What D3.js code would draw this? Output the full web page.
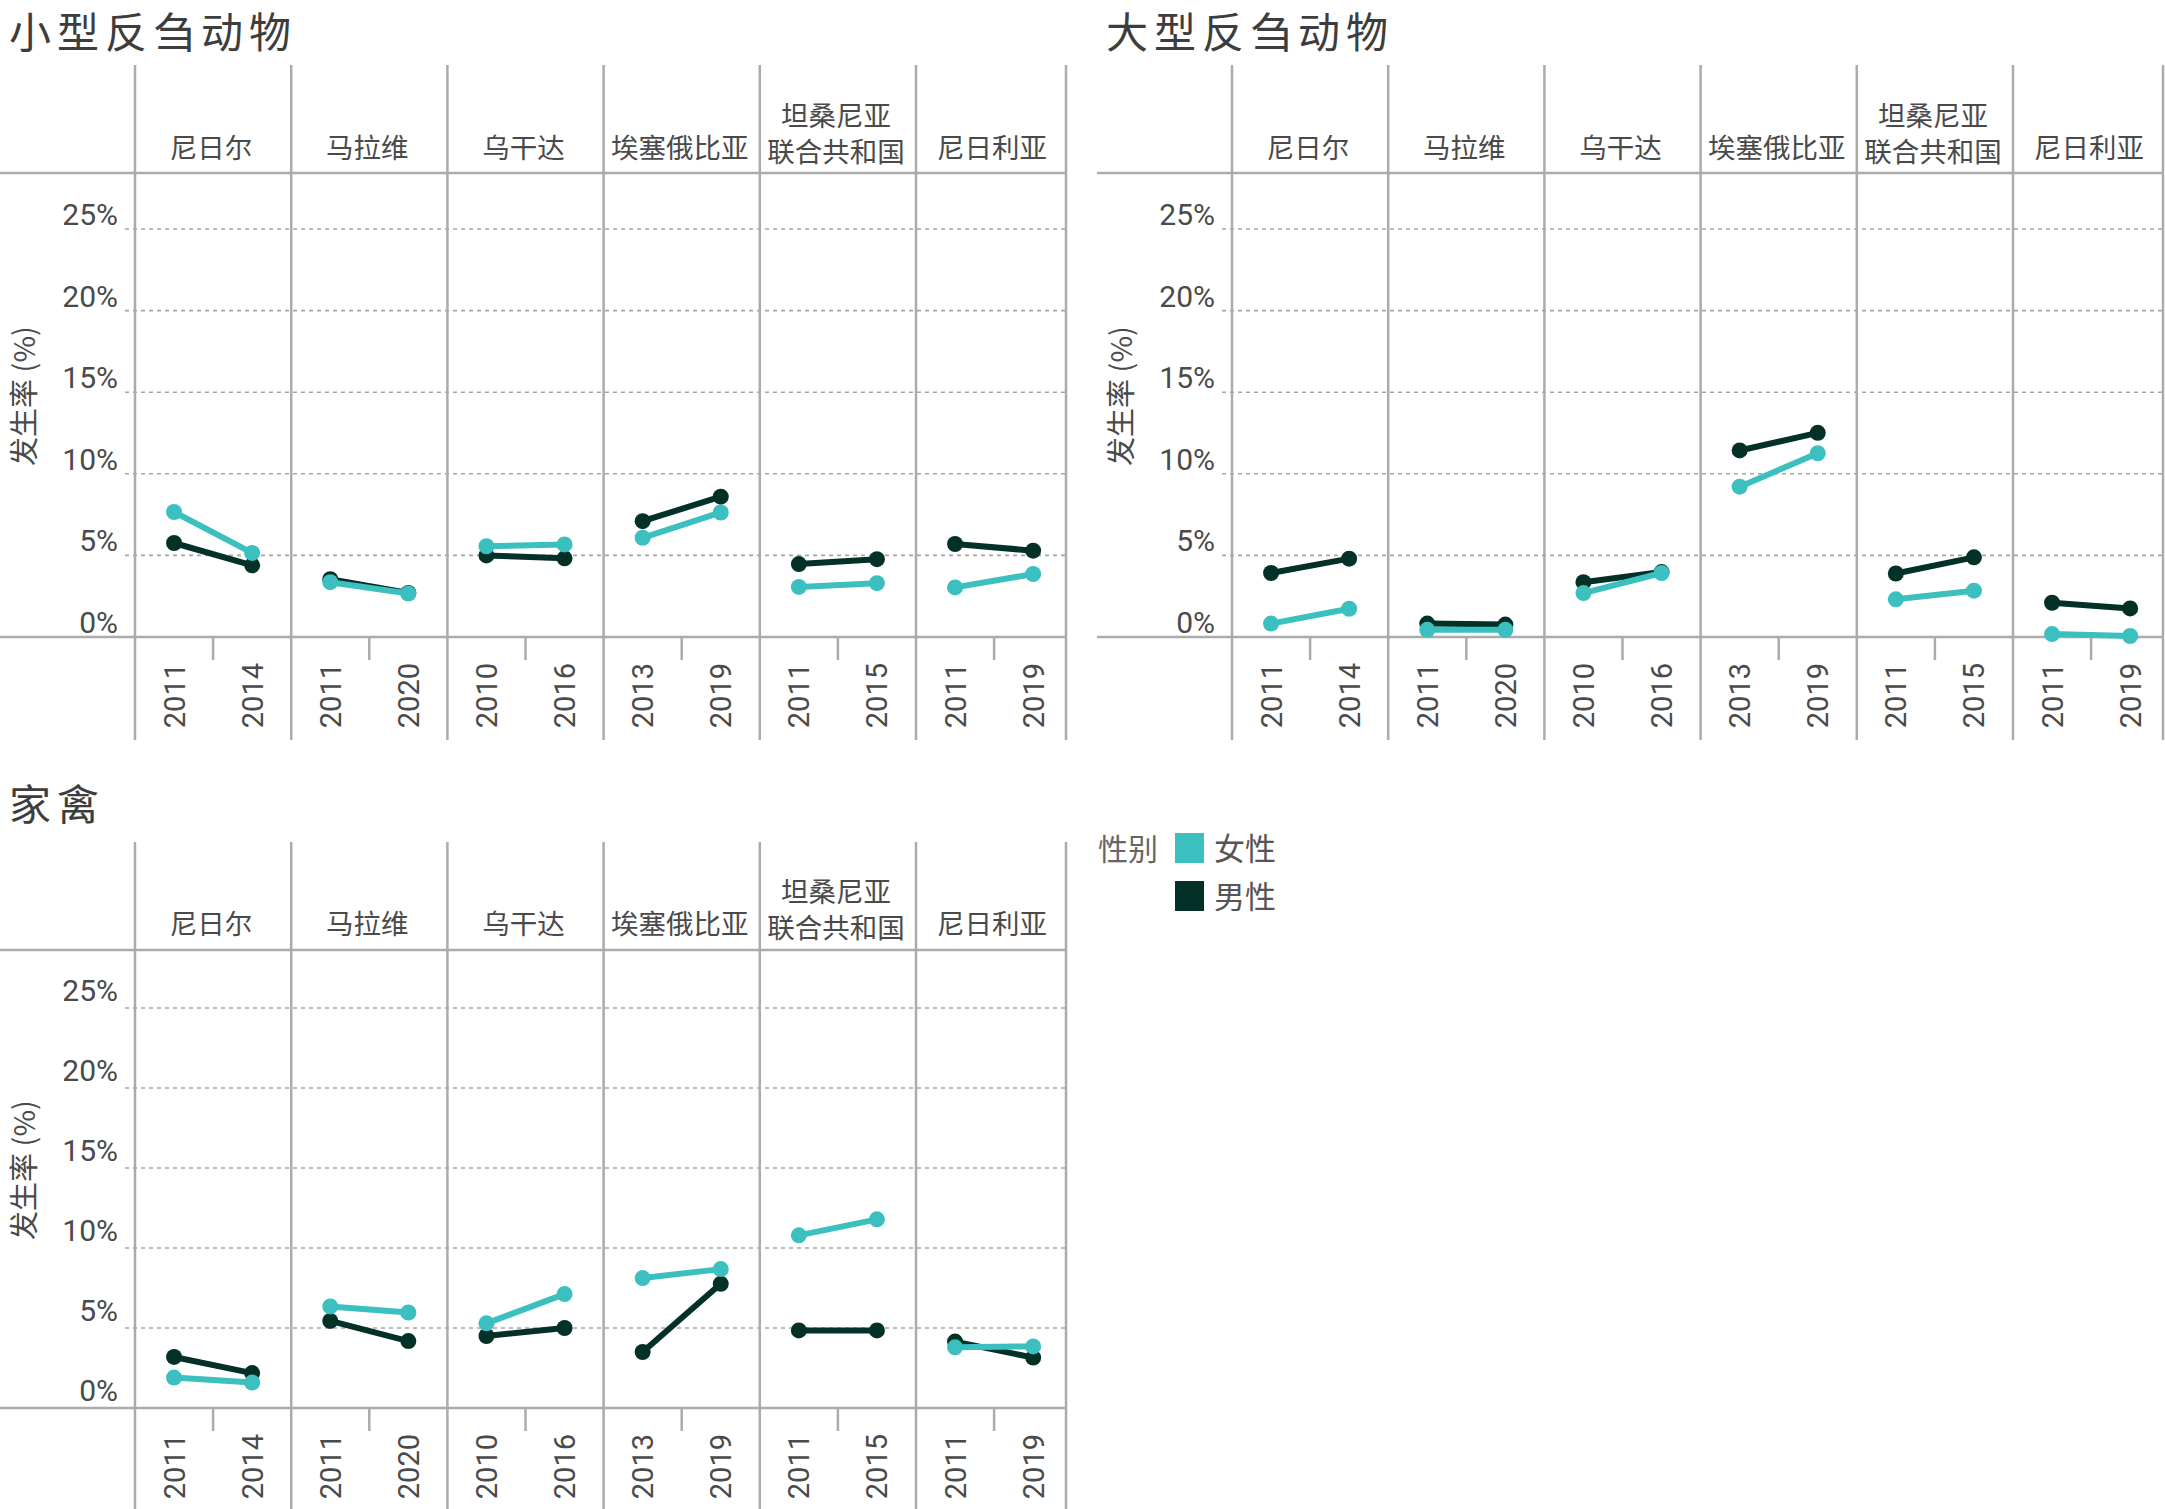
<!DOCTYPE html>
<html>
<head>
<meta charset="utf-8">
<script src="https://cdn.jsdelivr.net/npm/d3@7"></script>
<style>
  html, body { margin: 0; padding: 0; background: #ffffff; }
  svg { display: block; }
</style>
</head>
<body>
<div id="chart"></div>
<script>
// ---------------- DATA ----------------
const countries = ["尼日尔", "马拉维", "乌干达", "埃塞俄比亚", "坦桑尼亚联合共和国", "尼日利亚"];
const countryLabelLines = [["尼日尔"], ["马拉维"], ["乌干达"], ["埃塞俄比亚"], ["坦桑尼亚", "联合共和国"], ["尼日利亚"]];
const surveyYears = [["2011", "2014"], ["2011", "2020"], ["2010", "2016"], ["2013", "2019"], ["2011", "2015"], ["2011", "2019"]];
const yTicks = [0, 5, 10, 15, 20, 25];
const sexes = ["女性", "男性"];
const chartTitles = ["小型反刍动物", "大型反刍动物", "家禽"];

const smallFemale = [[7.66, 5.15], [3.36, 2.66], [5.56, 5.67], [6.08, 7.63], [3.07, 3.30], [3.04, 3.86]];
const smallMale   = [[5.76, 4.39], [3.54, 2.70], [5.00, 4.82], [7.10, 8.60], [4.47, 4.77], [5.70, 5.29]];
const largeFemale = [[0.82, 1.73], [0.44, 0.44], [2.69, 3.92], [9.21, 11.26], [2.31, 2.84], [0.18, 0.06]];
const largeMale   = [[3.92, 4.80], [0.82, 0.76], [3.36, 3.98], [11.43, 12.51], [3.89, 4.88], [2.10, 1.75]];
const poultryFemale = [[1.90, 1.59], [6.35, 5.97], [5.29, 7.12], [8.12, 8.68], [10.79, 11.79], [3.79, 3.85]];
const poultryMale   = [[3.19, 2.18], [5.44, 4.18], [4.50, 5.00], [3.50, 7.76], [4.85, 4.85], [4.15, 3.15]];

// ---------------- STYLE / LAYOUT ----------------
const W = 2165, H = 1509;
const colors = { "女性": "#3bc0bf", "男性": "#033128" };
const cjk = "'Noto Sans CJK SC', 'Noto Sans', sans-serif";
const num = "Roboto, 'Noto Sans', sans-serif";
const lineCol = "#ababab";
const textCol = "#4a4a4a";

const svg = d3.select("#chart").append("svg").attr("width", W).attr("height", H);

const charts = [
  { title: chartTitles[0], female: smallFemale, male: smallMale, ox: 0,
    titleY: 48, lineTop: 65, headerY: 173, y0: 637, y25: 229, bottom: 740, labelBase: 158, axisTitleY: 396 },
  { title: chartTitles[1], female: largeFemale, male: largeMale, ox: 1097,
    titleY: 48, lineTop: 65, headerY: 173, y0: 637, y25: 229, bottom: 740, labelBase: 158, axisTitleY: 396 },
  { title: chartTitles[2], female: poultryFemale, male: poultryMale, ox: 0,
    titleY: 820, lineTop: 842, headerY: 950, y0: 1408, y25: 1008, bottom: 1509, labelBase: 934, axisTitleY: 1170 }
];

charts.forEach(c => {
  const g = svg.append("g").attr("transform", `translate(${c.ox},0)`);
  const panelW = 156.2;
  const x = d3.scaleBand().domain(countries).range([135, 135 + panelW * countries.length]);
  const rightEdge = 1066;
  const y = d3.scaleLinear().domain([0, 25]).range([c.y0, c.y25]);

  // title
  g.append("text")
    .attr("x", 9).attr("y", c.titleY)
    .attr("font-family", cjk).attr("font-size", 42).attr("letter-spacing", 6)
    .attr("fill", "#3d3d3d")
    .text(c.title);

  // gridlines
  g.selectAll(".grid").data(yTicks.filter(t => t > 0)).enter().append("line")
    .attr("x1", 125).attr("x2", rightEdge)
    .attr("y1", d => y(d)).attr("y2", d => y(d))
    .attr("stroke", "#a6a6a6").attr("stroke-width", 1.6)
    .attr("stroke-dasharray", "4,4");

  // y tick labels
  g.selectAll(".ytl").data(yTicks).enter().append("text")
    .attr("x", 118).attr("y", d => y(d) - (c.y0 > 1000 ? 7 : 4))
    .attr("text-anchor", "end")
    .attr("font-family", num).attr("font-size", 30).attr("fill", textCol)
    .text(d => d + "%");

  // y axis title
  g.append("text")
    .attr("transform", `translate(35,${c.axisTitleY}) rotate(-90)`)
    .attr("text-anchor", "middle")
    .attr("font-family", cjk).attr("font-size", 29).attr("fill", textCol)
    .text("发生率 (%)");

  // header and baseline horizontal lines
  [c.headerY, c.y0].forEach(yy => {
    g.append("line").attr("x1", 0).attr("x2", rightEdge)
      .attr("y1", yy).attr("y2", yy)
      .attr("stroke", lineCol).attr("stroke-width", 2.5);
  });

  // panel vertical separators
  const edges = countries.map(k => x(k)).concat([rightEdge]);
  g.selectAll(".sep").data(edges).enter().append("line")
    .attr("x1", d => d).attr("x2", d => d)
    .attr("y1", c.lineTop).attr("y2", c.bottom)
    .attr("stroke", lineCol).attr("stroke-width", 2.5);

  countries.forEach((country, i) => {
    const px = d3.scalePoint().domain(surveyYears[i]).range([x(country), x(country) + x.bandwidth()]).padding(0.5);
    const cx = x(country) + x.bandwidth() / 2;

    // header label
    const lines = countryLabelLines[i];
    lines.forEach((ln, j) => {
      const by = lines.length === 1 ? c.labelBase : c.labelBase - 32 + j * 36;
      g.append("text")
        .attr("x", cx - 2).attr("y", by)
        .attr("text-anchor", "middle")
        .attr("font-family", cjk).attr("font-size", 27.5).attr("fill", textCol)
        .text(ln);
    });

    // mid tick
    g.append("line").attr("x1", cx).attr("x2", cx)
      .attr("y1", c.y0).attr("y2", c.y0 + 23)
      .attr("stroke", lineCol).attr("stroke-width", 2.5);

    // year labels
    surveyYears[i].forEach(yr => {
      g.append("text")
        .attr("transform", `translate(${px(yr)},${c.y0 + 26}) rotate(-90)`)
        .attr("dy", "0.36em")
        .attr("text-anchor", "end")
        .attr("font-family", num).attr("font-size", 29).attr("fill", textCol)
        .text(yr);
    });

    // series: male first, female on top
    [["男性", c.male[i]], ["女性", c.female[i]]].forEach(([sex, vals]) => {
      const pts = surveyYears[i].map((yr, k) => [px(yr), y(vals[k])]);
      g.append("path")
        .attr("d", d3.line()(pts))
        .attr("fill", "none").attr("stroke", colors[sex]).attr("stroke-width", 6);
      g.selectAll(null).data(pts).enter().append("circle")
        .attr("cx", d => d[0]).attr("cy", d => d[1]).attr("r", 8)
        .attr("fill", colors[sex]);
    });
  });
});

// legend
const lg = svg.append("g");
lg.append("text").attr("x", 1098).attr("y", 860)
  .attr("font-family", cjk).attr("font-size", 30).attr("fill", "#666")
  .text("性别");
sexes.forEach((s, i) => {
  lg.append("rect").attr("x", 1175).attr("y", 833 + i * 48).attr("width", 29).attr("height", 30)
    .attr("fill", colors[s]);
  lg.append("text").attr("x", 1214).attr("y", 860 + i * 48)
    .attr("font-family", cjk).attr("font-size", 31).attr("fill", "#555")
    .text(s);
});
</script>
</body>
</html>
